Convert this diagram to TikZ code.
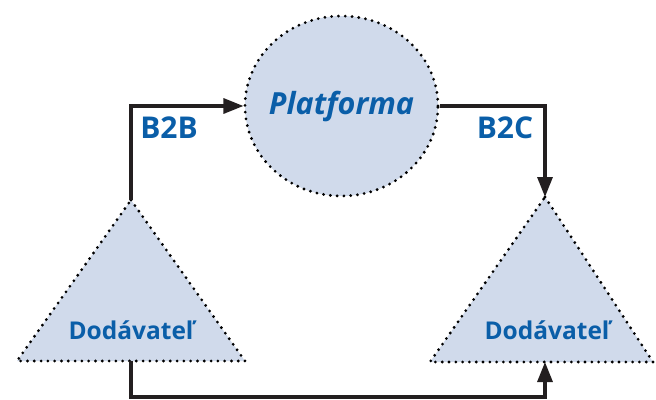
\documentclass[tikz,border=0pt]{standalone}
\usepackage{fontspec}
\setmainfont{Open Sans}
\usetikzlibrary{arrows.meta,shapes.geometric}
\definecolor{fillb}{HTML}{D0DAEB}
\definecolor{txtb}{HTML}{0A5EA8}
\definecolor{lin}{HTML}{231F20}
\tikzset{
  dotborder/.style={draw=black, line width=3.1pt, line cap=round, dash pattern=on 0pt off 6.8pt, fill=fillb},
  conn/.style={draw=lin, line width=3.2pt, -{Triangle[length=20pt,width=15pt]}},
  lbl/.style={text=txtb, font=\bfseries, inner sep=0pt},
}
\begin{document}
\begin{tikzpicture}[x=1pt,y=-1pt]
\useasboundingbox (0,0) rectangle (656,399);
% platform
\node[ellipse, dotborder, minimum width=193pt, minimum height=180pt, inner sep=0pt] (plat) at (341.5,106) {};
\node[lbl, font=\bfseries\itshape\fontsize{30.5}{30.5}\selectfont] (platt) at (341.5,106) {Platforma};
% left triangle
\coordinate (lA) at (131,200);
\coordinate (lB) at (131,361);
\path[dotborder] (lA) -- (245,361) -- (17,361) -- cycle;
\node[lbl, font=\bfseries\fontsize{24.5}{24.5}\selectfont] (lt) at (131,330) {Dodávateľ};
% right triangle
\coordinate (rA) at (545,197);
\coordinate (rB) at (545,362);
\path[dotborder] (rA) -- (653,362) -- (430,362) -- cycle;
\node[lbl, font=\bfseries\fontsize{24.5}{24.5}\selectfont] (rt) at (547,330) {Dodávateľ};
% connectors
\draw[conn] (lA) |- (plat.west);
\draw[conn] (plat.east) -| (rA);
\coordinate (bot) at (131,397);
\draw[conn] (lB) -- (bot) -| (rB);
% labels
\node[lbl, font=\bfseries\fontsize{30}{30}\selectfont] (b2b) at (169,128) {B2B};
\node[lbl, font=\bfseries\fontsize{30}{30}\selectfont] (b2c) at (505,128) {B2C};
\end{tikzpicture}
\end{document}
